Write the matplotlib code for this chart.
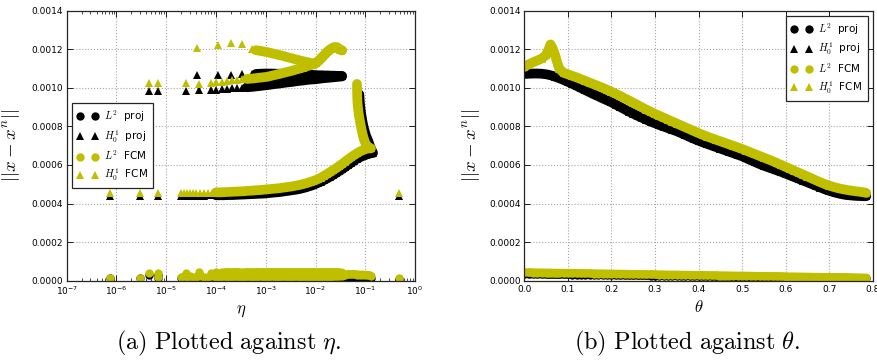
import numpy as np
import matplotlib
matplotlib.use('Agg')
import matplotlib.pyplot as plt
from matplotlib.font_manager import FontProperties
from matplotlib.ticker import FormatStrFormatter, MultipleLocator, LogLocator, NullFormatter

# ---------------- panel (a): error against eta (errors in units of 1e-4) ----------------
# isolated points
eta_iso = [7.52e-7, 3.01e-6, 6.93e-6, 0.483]
h1_fcm_iso = [4.53, 4.53, 4.53, 4.53]
h1_proj_iso = [4.39, 4.39, 4.39, 4.39]

eta_hi = [4.57e-6, 6.93e-6]
h1_fcm_hi = [10.23, 10.23]
h1_proj_hi = [9.83, 9.83]

# lower branch
eta_low = [1.98e-5, 2.28e-5, 2.62e-5, 3.00e-5, 3.45e-5, 3.97e-5, 4.77e-5, 5.74e-5, 6.91e-5, 8.32e-5,
           1.00e-4, 1.20e-4, 1.45e-4, 1.74e-4, 2.10e-4, 2.53e-4, 3.04e-4, 3.66e-4, 4.40e-4, 5.30e-4,
           6.37e-4, 7.66e-4, 9.23e-4, 1.11e-3, 1.34e-3, 1.61e-3, 1.93e-3, 2.33e-3, 2.80e-3, 3.37e-3,
           4.06e-3, 4.88e-3, 5.61e-3, 6.44e-3, 7.40e-3, 8.51e-3, 9.77e-3, 1.12e-2, 1.29e-2, 1.48e-2,
           1.70e-2, 1.96e-2, 2.25e-2, 2.58e-2, 2.97e-2, 3.41e-2, 3.92e-2, 4.50e-2, 5.17e-2, 5.94e-2,
           6.82e-2, 7.84e-2, 9.01e-2, 0.1035, 0.1189, 0.1304]
h1_fcm_low = [4.53, 4.53, 4.55, 4.53, 4.55, 4.55, 4.56, 4.56, 4.57, 4.57,
              4.58, 4.58, 4.59, 4.60, 4.61, 4.62, 4.63, 4.64, 4.66, 4.67,
              4.69, 4.70, 4.72, 4.74, 4.76, 4.78, 4.80, 4.83, 4.86, 4.89,
              4.93, 4.97, 5.01, 5.05, 5.10, 5.15, 5.20, 5.27, 5.35, 5.44,
              5.53, 5.63, 5.73, 5.83, 5.94, 6.05, 6.17, 6.29, 6.40, 6.51,
              6.61, 6.70, 6.77, 6.83, 6.86, 6.86]
h1_proj_low = [4.39, 4.39, 4.40, 4.40, 4.40, 4.40, 4.41, 4.41, 4.42, 4.42,
               4.43, 4.43, 4.43, 4.44, 4.44, 4.45, 4.46, 4.47, 4.48, 4.49,
               4.50, 4.51, 4.52, 4.54, 4.56, 4.58, 4.60, 4.63, 4.66, 4.69,
               4.72, 4.76, 4.80, 4.84, 4.89, 4.94, 5.00, 5.07, 5.14, 5.22,
               5.30, 5.39, 5.48, 5.58, 5.68, 5.78, 5.89, 6.00, 6.11, 6.22,
               6.32, 6.40, 6.47, 6.53, 6.58, 6.61]
l2_fcm_low = [0.21, 0.22, 0.20, 0.22, 0.20, 0.21, 0.22, 0.20, 0.21, 0.22,
              0.20, 0.21, 0.22, 0.20, 0.21, 0.22, 0.20, 0.21, 0.22, 0.20,
              0.21, 0.22, 0.20, 0.21, 0.22, 0.20, 0.21, 0.22, 0.20, 0.21,
              0.22, 0.20, 0.21, 0.22, 0.20, 0.21, 0.22, 0.20, 0.21, 0.22,
              0.20, 0.21, 0.22, 0.22, 0.23, 0.25, 0.31, 0.34, 0.33, 0.34,
              0.32, 0.31, 0.31, 0.30, 0.28, 0.24]
l2_proj_low = [0.13, 0.13, 0.13, 0.13, 0.13, 0.13, 0.13, 0.13, 0.13, 0.13,
               0.13, 0.13, 0.13, 0.13, 0.13, 0.13, 0.13, 0.13, 0.13, 0.13,
               0.13, 0.13, 0.13, 0.13, 0.13, 0.13, 0.13, 0.13, 0.13, 0.13,
               0.13, 0.13, 0.13, 0.13, 0.13, 0.13, 0.13, 0.13, 0.13, 0.13,
               0.13, 0.13, 0.13, 0.13, 0.13, 0.15, 0.17, 0.19, 0.20, 0.20,
               0.19, 0.18, 0.17, 0.16, 0.15, 0.14]

# near-vertical part around eta ~ 0.1
eta_vert_fcm = [0.1135, 0.1035, 0.0965, 0.0913, 0.0872, 0.0840, 0.0810, 0.0784, 0.0759,
                0.0738, 0.0721, 0.0708, 0.0698, 0.0691, 0.0688, 0.0685, 0.0682, 0.0682]
h1_fcm_vert = [6.95, 7.05, 7.25, 7.45, 7.65, 7.85, 8.05, 8.25, 8.45,
               8.65, 8.85, 9.05, 9.25, 9.45, 9.65, 9.85, 10.05, 10.20]
eta_vert_proj = [0.1432, 0.1334, 0.1245, 0.1178, 0.1109, 0.1035, 0.0988, 0.0943, 0.0909,
                 0.0880, 0.0856, 0.0833, 0.0814, 0.0799, 0.0784, 0.0773, 0.0766, 0.0759]
h1_proj_vert = [6.62, 6.80, 6.98, 7.16, 7.34, 7.52, 7.70, 7.88, 8.06,
                8.24, 8.42, 8.60, 8.78, 8.96, 9.14, 9.32, 9.50, 9.66]

# upper branch, lower row
eta_row = [2.46e-5, 4.62e-5, 7.94e-5, 1.00e-4, 1.32e-4, 1.66e-4, 2.10e-4, 2.65e-4, 3.33e-4, 4.20e-4,
           5.30e-4, 6.68e-4, 8.41e-4, 1.06e-3, 1.28e-3, 1.54e-3, 1.85e-3, 2.22e-3, 2.68e-3, 3.22e-3,
           3.87e-3, 4.66e-3, 5.61e-3, 6.75e-3, 8.12e-3, 9.33e-3]
h1_fcm_row = [10.23, 10.20, 10.26, 10.28, 10.31, 10.35, 10.40, 10.42, 10.44, 10.46,
              10.48, 10.51, 10.54, 10.57, 10.62, 10.67, 10.72, 10.77, 10.82, 10.87,
              10.93, 10.99, 11.05, 11.12, 11.18, 11.22]
h1_proj_row = [9.83, 9.88, 9.89, 9.91, 9.92, 9.94, 9.97, 9.99, 10.01, 10.03,
               10.05, 10.08, 10.11, 10.14, 10.17, 10.20, 10.22, 10.25, 10.28, 10.30,
               10.33, 10.36, 10.38, 10.41, 10.43, 10.44]
l2_fcm_row = [0.38, 0.47, 0.38, 0.45, 0.42, 0.44, 0.43, 0.44, 0.42, 0.44,
              0.43, 0.44, 0.43, 0.44, 0.43, 0.44, 0.43, 0.44, 0.43, 0.44,
              0.43, 0.44, 0.43, 0.44, 0.43, 0.44]
l2_proj_row = [0.30, 0.33, 0.30, 0.32, 0.31, 0.32, 0.31, 0.32, 0.31, 0.32,
               0.31, 0.32, 0.31, 0.32, 0.31, 0.32, 0.31, 0.32, 0.31, 0.32,
               0.31, 0.32, 0.31, 0.32, 0.31, 0.32]
eta_row_end = [1.12e-2, 1.35e-2, 1.63e-2, 1.96e-2, 2.35e-2, 2.83e-2, 3.41e-2]
h1_proj_row_end = [10.46, 10.49, 10.51, 10.53, 10.55, 10.57, 10.59]
l2_fcm_row_end = [0.43, 0.44, 0.43, 0.44, 0.43, 0.43, 0.42]
l2_proj_row_end = [0.31, 0.30, 0.29, 0.28, 0.27, 0.26, 0.25]

# upper branch, top row
eta_top = [4.10e-5, 1.08e-4, 2.00e-4, 3.29e-4, 5.22e-4, 6.37e-4, 7.66e-4, 9.23e-4, 1.11e-3, 1.34e-3,
           1.61e-3, 1.93e-3, 2.33e-3, 2.80e-3, 3.37e-3, 4.06e-3, 4.88e-3, 5.87e-3, 7.07e-3, 8.51e-3]
h1_fcm_top = [12.09, 12.21, 12.33, 12.26, 11.99, 11.95, 11.92, 11.88, 11.84, 11.79,
              11.74, 11.69, 11.64, 11.58, 11.53, 11.47, 11.42, 11.37, 11.32, 11.27]
h1_proj_top = [10.66, 10.66, 10.69, 10.71, 10.71, 10.72, 10.73, 10.74, 10.74, 10.74,
               10.73, 10.73, 10.72, 10.72, 10.71, 10.71, 10.70, 10.69, 10.68, 10.67]
eta_tail = [1.02e-2, 1.18e-2, 1.35e-2, 1.55e-2, 1.78e-2, 2.05e-2, 2.35e-2, 2.70e-2, 3.11e-2, 3.41e-2]
h1_fcm_tail = [11.28, 11.42, 11.58, 11.74, 11.90, 12.02, 12.10, 12.10, 11.98, 11.94]
h1_proj_tail = [10.66, 10.65, 10.65, 10.64, 10.64, 10.63, 10.63, 10.62, 10.62, 10.62]

# isolated L2 points
eta_iso_l2 = [7.52e-7, 3.01e-6, 4.57e-6, 6.93e-6, 6.93e-6, 0.483]
l2_fcm_iso = [0.16, 0.16, 0.38, 0.38, 0.19, 0.16]
l2_proj_iso = [0.12, 0.12, 0.30, 0.30, 0.12, 0.10]

# ---------------- panel (b): error against theta ----------------
theta_b = [0.00, 0.01, 0.02, 0.03, 0.04, 0.05, 0.055, 0.06, 0.065, 0.07, 0.075, 0.08, 0.09,
           0.10, 0.11, 0.12, 0.13, 0.14, 0.15, 0.16, 0.17, 0.18, 0.19,
           0.20, 0.21, 0.22, 0.23, 0.24, 0.25, 0.26, 0.27, 0.28, 0.29,
           0.30, 0.31, 0.32, 0.33, 0.34, 0.35, 0.36, 0.37, 0.38, 0.39,
           0.40, 0.41, 0.42, 0.43, 0.44, 0.45, 0.46, 0.47, 0.48, 0.49,
           0.50, 0.51, 0.52, 0.53, 0.54, 0.55, 0.56, 0.57, 0.58, 0.59,
           0.60, 0.61, 0.62, 0.63, 0.64, 0.65, 0.66, 0.67, 0.68, 0.69,
           0.70, 0.71, 0.72, 0.73, 0.74, 0.75, 0.76, 0.77, 0.78, 0.785]
# x 1e-4
h1_proj_b = [10.72, 10.73, 10.74, 10.74, 10.73, 10.70, 10.68, 10.65, 10.62, 10.58, 10.54, 10.50, 10.41,
             10.31, 10.21, 10.10, 9.99, 9.88, 9.77, 9.66, 9.56, 9.45, 9.35,
             9.25, 9.13, 9.01, 8.89, 8.77, 8.66, 8.55, 8.45, 8.35, 8.25,
             8.16, 8.07, 7.99, 7.91, 7.83, 7.75, 7.65, 7.55, 7.45, 7.35,
             7.26, 7.17, 7.09, 7.01, 6.93, 6.85, 6.77, 6.69, 6.61, 6.53,
             6.45, 6.35, 6.25, 6.15, 6.05, 5.96, 5.88, 5.80, 5.72, 5.64,
             5.55, 5.46, 5.37, 5.28, 5.19, 5.10, 5.01, 4.92, 4.83, 4.74,
             4.66, 4.59, 4.53, 4.48, 4.44, 4.42, 4.40, 4.39, 4.38, 4.38]
h1_fcm_b = [11.08, 11.22, 11.32, 11.42, 11.52, 11.70, 11.95, 12.25, 12.05, 11.75, 11.35, 11.00, 10.78,
            10.70, 10.62, 10.54, 10.45, 10.36, 10.27, 10.18, 10.09, 10.00, 9.90,
            9.80, 9.69, 9.58, 9.46, 9.35, 9.23, 9.11, 8.99, 8.87, 8.76,
            8.65, 8.55, 8.45, 8.35, 8.25, 8.15, 8.05, 7.95, 7.85, 7.75,
            7.65, 7.56, 7.47, 7.39, 7.31, 7.23, 7.15, 7.07, 6.99, 6.91,
            6.83, 6.74, 6.65, 6.56, 6.47, 6.38, 6.29, 6.20, 6.10, 6.00,
            5.90, 5.80, 5.70, 5.60, 5.50, 5.40, 5.30, 5.20, 5.10, 5.01,
            4.93, 4.86, 4.80, 4.75, 4.71, 4.67, 4.64, 4.61, 4.58, 4.55]
# x 1e-5
l2_fcm_b = [4.30, 4.26, 4.23, 4.19, 4.16, 4.12, 4.10, 4.09, 4.07, 4.05, 4.03, 4.01, 3.98,
            3.94, 3.91, 3.87, 3.84, 3.80, 3.76, 3.73, 3.69, 3.66, 3.62,
            3.59, 3.55, 3.51, 3.48, 3.44, 3.41, 3.37, 3.34, 3.30, 3.26,
            3.23, 3.19, 3.16, 3.12, 3.09, 3.05, 3.01, 2.98, 2.94, 2.91,
            2.87, 2.84, 2.80, 2.76, 2.73, 2.69, 2.66, 2.62, 2.59, 2.55,
            2.52, 2.48, 2.44, 2.41, 2.37, 2.34, 2.30, 2.27, 2.23, 2.19,
            2.16, 2.12, 2.09, 2.05, 2.02, 1.98, 1.94, 1.91, 1.87, 1.84,
            1.80, 1.77, 1.73, 1.69, 1.66, 1.62, 1.59, 1.55, 1.52, 1.50]
l2_proj_b = [3.50, 3.47, 3.44, 3.42, 3.39, 3.36, 3.35, 3.33, 3.32, 3.30, 3.29, 3.28, 3.25,
             3.22, 3.19, 3.16, 3.14, 3.11, 3.08, 3.05, 3.02, 3.00, 2.97,
             2.94, 2.91, 2.88, 2.86, 2.83, 2.80, 2.77, 2.74, 2.72, 2.69,
             2.66, 2.63, 2.60, 2.58, 2.55, 2.52, 2.49, 2.46, 2.44, 2.41,
             2.38, 2.35, 2.32, 2.30, 2.27, 2.24, 2.21, 2.18, 2.16, 2.13,
             2.10, 2.07, 2.04, 2.02, 1.99, 1.96, 1.93, 1.90, 1.88, 1.85,
             1.82, 1.79, 1.76, 1.74, 1.71, 1.68, 1.65, 1.62, 1.60, 1.57,
             1.54, 1.51, 1.48, 1.46, 1.43, 1.40, 1.37, 1.34, 1.32, 1.30]

# assemble panel (a) series
eta_l2 = eta_iso_l2 + eta_low + eta_row + eta_row_end
l2_fcm_a = l2_fcm_iso + l2_fcm_low + l2_fcm_row + l2_fcm_row_end
l2_proj_a = l2_proj_iso + l2_proj_low + l2_proj_row + l2_proj_row_end
eta_h1_proj = eta_iso + eta_hi + eta_low + eta_vert_proj + eta_row + eta_row_end + eta_top + eta_tail
h1_proj_a = h1_proj_iso + h1_proj_hi + h1_proj_low + h1_proj_vert + h1_proj_row + h1_proj_row_end + h1_proj_top + h1_proj_tail
eta_h1_fcm = eta_iso + eta_hi + eta_low + eta_vert_fcm + eta_row + eta_top + eta_tail
h1_fcm_a = h1_fcm_iso + h1_fcm_hi + h1_fcm_low + h1_fcm_vert + h1_fcm_row + h1_fcm_top + h1_fcm_tail

labels = [r'$L^2$  proj', r'$H_0^1$  proj', r'$L^2$  FCM', r'$H_0^1$  FCM']
YEL = (0.75, 0.75, 0.0)
MS = 6
LW_O = 6.0   # width of the densely packed circle bands
LW_T = 7.0   # width of the densely packed triangle bands


def band(ax, x, y, color, lw, z):
    # the markers are so dense that they merge into a solid band
    ax.plot(x, y, '-', color=color, lw=lw, solid_capstyle='round',
            solid_joinstyle='round', zorder=z, label='_nolegend_')


def marks(ax, x, y, m, color, z, lab):
    ax.plot(x, y, m, color=color, ms=MS, mew=0, zorder=z, label=lab)


fig = plt.figure(figsize=(8.78, 3.62), dpi=100)
ax1 = fig.add_axes([0.076, 0.2246, 0.3967, 0.7459])
ax2 = fig.add_axes([0.5972, 0.2246, 0.3968, 0.7459])

s4 = 1e-4
# panel (a)
band(ax1, eta_low[10:], np.array(l2_proj_low[10:]) * s4, 'k', LW_O, 2.0)
band(ax1, eta_row[4:] + eta_row_end, np.array(l2_proj_row[4:] + l2_proj_row_end) * s4, 'k', LW_O, 2.0)
marks(ax1, eta_l2, np.array(l2_proj_a) * s4, 'o', 'k', 2.0, labels[0])

band(ax1, eta_low[10:] + eta_vert_proj, np.array(h1_proj_low[10:] + h1_proj_vert) * s4, 'k', LW_T, 2.1)
band(ax1, eta_row[9:] + eta_row_end, np.array(h1_proj_row[9:] + h1_proj_row_end) * s4, 'k', LW_T, 2.1)
band(ax1, eta_top[5:] + eta_tail, np.array(h1_proj_top[5:] + h1_proj_tail) * s4, 'k', LW_T, 2.1)
marks(ax1, eta_h1_proj, np.array(h1_proj_a) * s4, '^', 'k', 2.1, labels[1])

band(ax1, eta_low[10:], np.array(l2_fcm_low[10:]) * s4, YEL, LW_O, 2.2)
band(ax1, eta_row[4:] + eta_row_end, np.array(l2_fcm_row[4:] + l2_fcm_row_end) * s4, YEL, LW_O, 2.2)
marks(ax1, eta_l2, np.array(l2_fcm_a) * s4, 'o', YEL, 2.2, labels[2])

band(ax1, eta_low[10:] + eta_vert_fcm, np.array(h1_fcm_low[10:] + h1_fcm_vert) * s4, YEL, LW_T, 2.3)
band(ax1, eta_row[9:] + eta_tail, np.array(h1_fcm_row[9:] + h1_fcm_tail) * s4, YEL, LW_T, 2.3)
band(ax1, eta_top[5:] + eta_tail, np.array(h1_fcm_top[5:] + h1_fcm_tail) * s4, YEL, LW_T, 2.3)
marks(ax1, eta_h1_fcm, np.array(h1_fcm_a) * s4, '^', YEL, 2.3, labels[3])

# panel (b)
band(ax2, theta_b, np.array(l2_proj_b) * 1e-5, 'k', LW_O, 2.0)
marks(ax2, theta_b, np.array(l2_proj_b) * 1e-5, 'o', 'k', 2.0, labels[0])
band(ax2, theta_b, np.array(h1_proj_b) * s4, 'k', LW_T, 2.1)
marks(ax2, theta_b, np.array(h1_proj_b) * s4, '^', 'k', 2.1, labels[1])
band(ax2, theta_b, np.array(l2_fcm_b) * 1e-5, YEL, LW_O, 2.2)
marks(ax2, theta_b, np.array(l2_fcm_b) * 1e-5, 'o', YEL, 2.2, labels[2])
band(ax2, theta_b, np.array(h1_fcm_b) * s4, YEL, LW_T, 2.3)
marks(ax2, theta_b, np.array(h1_fcm_b) * s4, '^', YEL, 2.3, labels[3])

ax1.set_xscale('log')
ax1.set_xlim(1e-7, 1e0)
ax1.xaxis.set_major_locator(LogLocator(base=10, numticks=10))
ax1.xaxis.set_minor_locator(LogLocator(base=10, subs=np.arange(2, 10), numticks=10))
ax1.xaxis.set_minor_formatter(NullFormatter())
ax2.set_xlim(0, 0.8)
ax2.xaxis.set_major_locator(MultipleLocator(0.1))
ax2.xaxis.set_major_formatter(FormatStrFormatter('%.1f'))

for ax in (ax1, ax2):
    ax.set_ylim(0, 0.0014)
    ax.yaxis.set_major_locator(MultipleLocator(0.0002))
    ax.yaxis.set_major_formatter(FormatStrFormatter('%.4f'))
    ax.grid(True, which='major', color='0.65', linestyle=':', linewidth=0.8)
    ax.tick_params(which='both', direction='in', top=True, right=True, labelsize=6.5)
    ax.tick_params(which='major', length=4, width=0.6)
    ax.tick_params(which='minor', length=2, width=0.5)
    ax.tick_params(axis='y', pad=2.5)
    ax.tick_params(axis='x', pad=3)
    for s in ax.spines.values():
        s.set_linewidth(0.9)
        s.set_color('0.15')
        s.set_zorder(3)
    ax.set_ylabel(r'$||x-x^n||$', fontsize=13.5, math_fontfamily='cm')

ax1.yaxis.set_label_coords(-0.128, 0.5)
ax2.yaxis.set_label_coords(-0.122, 0.5)
ax1.set_xlabel(r'$\eta$', fontsize=12, math_fontfamily='cm')
ax2.set_xlabel(r'$\theta$', fontsize=12, math_fontfamily='cm')
ax1.xaxis.set_label_coords(0.5, -0.075)
ax2.xaxis.set_label_coords(0.5, -0.065)

lp = FontProperties(size=7.5, math_fontfamily='cm')
for ax, loc in ((ax1, 'center left'), (ax2, 'upper right')):
    leg = ax.legend(loc=loc, numpoints=2, prop=lp, fancybox=False, framealpha=1,
                    edgecolor='0.15', borderaxespad=0.5, labelspacing=0.4,
                    handletextpad=0.6, borderpad=0.5)
    leg.get_frame().set_linewidth(0.9)
    leg.set_zorder(5)

fig.text(229 / 878, 1 - 343 / 362, r'$\mathrm{(a)\ Plotted\ against}\ \eta\mathrm{.}$',
         ha='center', va='center', fontsize=17.5, math_fontfamily='cm')
fig.text(687 / 878, 1 - 343 / 362, r'$\mathrm{(b)\ Plotted\ against}\ \theta\mathrm{.}$',
         ha='center', va='center', fontsize=17.5, math_fontfamily='cm')

fig.savefig('out.png', dpi=100)
